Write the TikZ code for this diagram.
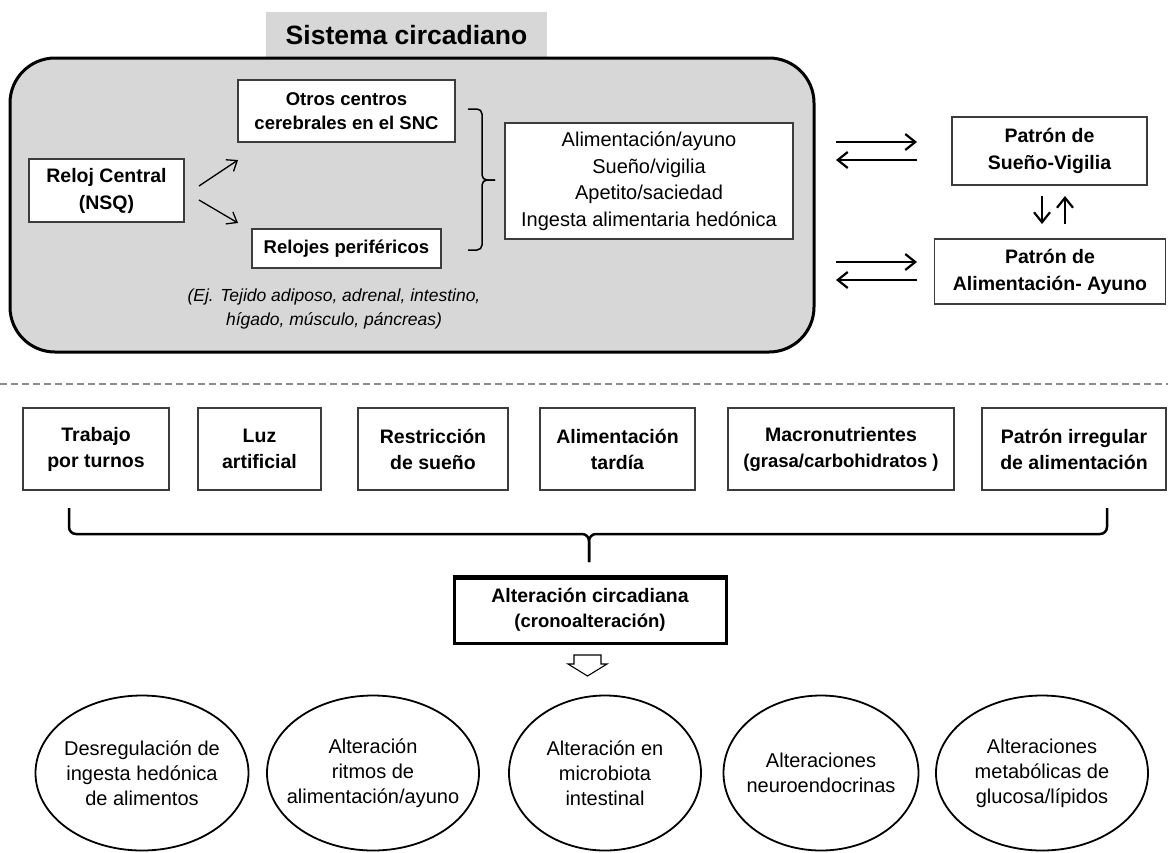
\documentclass[tikz,border=0pt]{standalone}
\usepackage{fontspec}
\setmainfont{Liberation Sans}
\usetikzlibrary{arrows.meta,shapes.geometric}
\definecolor{panel}{RGB}{215,215,215}
\definecolor{edgegray}{RGB}{60,60,60}
\definecolor{dashgray}{RGB}{140,140,140}
\begin{document}
\begin{tikzpicture}[x=1pt,y=-1pt,
  every node/.style={inner sep=0pt, outer sep=0pt},
  fbold/.style={font=\fontsize{19.5}{26}\selectfont\bfseries},
  fsbold/.style={font=\fontsize{18.5}{24.5}\selectfont\bfseries},
  freg/.style={font=\fontsize{20}{26.5}\selectfont},
  wbox/.style={draw=edgegray, line width=1.5pt, fill=white, align=center},
  bbox/.style={draw=edgegray, line width=2.2pt, fill=white, align=center, minimum height=82pt, fbold},
  ell/.style={ellipse, draw=black, line width=1.8pt, minimum height=155pt},
  etext/.style={align=center, font=\fontsize{20}{25}\selectfont},
  thinarr/.style={line width=1.3pt, -{Straight Barb[length=9pt,width=14pt]}},
  thickarr/.style={line width=2.2pt, -{Straight Barb[length=10pt,width=16pt]}},
  bracel/.style={line width=1.5pt, rounded corners=5pt},
  bigbrace/.style={line width=2.5pt, rounded corners=7pt},
]
\useasboundingbox (0,0) rectangle (1168,852);

% ---- circadian system panel ----
\node[fill=panel, minimum width=281pt, minimum height=46pt, font=\fontsize{26.5}{30}\selectfont\bfseries] (title) at (406.5,35) {Sistema circadiano};
\node[draw=black, line width=3pt, fill=panel, rounded corners=45pt, minimum width=804pt, minimum height=294pt] (sys) at (412,205) {};

\node[wbox, minimum width=155pt, minimum height=63pt, font=\fontsize{19.5}{27}\selectfont\bfseries] (reloj) at (106.5,190.5) {Reloj Central\\(NSQ)};
\node[wbox, fsbold, minimum width=217pt, minimum height=62pt] (otros) at (346.5,111) {Otros centros\\cerebrales en el SNC};
\node[wbox, fsbold, minimum width=189pt, minimum height=39pt] (relojes) at (346.5,248.5) {Relojes periféricos};
\node[wbox, freg, minimum width=288pt, minimum height=116pt] (alim) at (649,181) {Alimentación/ayuno\\Sueño/vigilia\\Apetito/saciedad\\Ingesta alimentaria hedónica};
\node[align=center, font=\fontsize{17.5}{23.5}\selectfont\itshape] (ej) at (334,309) {(Ej. Tejido adiposo, adrenal, intestino,\\hígado, músculo, páncreas)};

\coordinate (a1s) at (199,186); \coordinate (a1e) at (238,160);
\coordinate (a2s) at (199,200); \coordinate (a2e) at (238,223);
\draw[thinarr] (a1s) -- (a1e);
\draw[thinarr] (a2s) -- (a2e);

% brace right of the two boxes
\coordinate (bt1) at (468,109); \coordinate (bt2) at (468,250); \coordinate (btip) at (495,180);
\draw[bracel] (bt1) -- (482,109) -- (482,180) -- (btip);
\draw[bracel] (bt2) -- (482,250) -- (482,180) -- (btip);

% ---- right patterns ----
\node[wbox, minimum width=195pt, minimum height=68pt, font=\fontsize{19.5}{27}\selectfont\bfseries] (sueno) at (1049.5,151) {Patrón de\\Sueño-Vigilia};
\node[wbox, minimum width=231pt, minimum height=65pt, font=\fontsize{19.5}{27}\selectfont\bfseries] (alay) at (1050,271.5) {Patrón de\\Alimentación- Ayuno};

\coordinate (r1a) at (836,142); \coordinate (r1b) at (917,142);
\coordinate (r2a) at (836,160); \coordinate (r2b) at (917,160);
\coordinate (r3a) at (836,262); \coordinate (r3b) at (917,262);
\coordinate (r4a) at (836,280); \coordinate (r4b) at (917,280);
\draw[thickarr] (r1a) -- (r1b);
\draw[thickarr] (r2b) -- (r2a);
\draw[thickarr] (r3a) -- (r3b);
\draw[thickarr] (r4b) -- (r4a);

\coordinate (v1a) at (1042,196); \coordinate (v1b) at (1042,224);
\coordinate (v2a) at (1065,224); \coordinate (v2b) at (1065,196);
\draw[thickarr] (v1a) -- (v1b);
\draw[thickarr] (v2a) -- (v2b);

% ---- separator ----
\coordinate (dl) at (0,384); \coordinate (dr) at (1168,384);
\draw[dashgray, line width=1.5pt, dash pattern=on 7pt off 4pt] (dl) -- (dr);

% ---- factors ----
\node[bbox, minimum width=146pt] (f1) at (96,449) {Trabajo\\por turnos};
\node[bbox, minimum width=123pt] (f2) at (259.5,449) {Luz\\artificial};
\node[bbox, minimum width=150pt] (f3) at (433,449) {Restricción\\de sueño};
\node[bbox, minimum width=155pt] (f4) at (617.5,449) {Alimentación\\tardía};
\node[bbox, minimum width=226pt] (f5) at (841,449) {Macronutrientes\\{\fontsize{18.5}{26}\selectfont(grasa/carbohidratos )}};
\node[bbox, minimum width=184pt] (f6) at (1074,449) {Patrón irregular\\de alimentación};

% big brace
\coordinate (bl) at (69,508); \coordinate (br) at (1107,508); \coordinate (bc) at (589,562);
\draw[bigbrace] (bl) -- (69,534) -- (589,534) -- (bc);
\draw[bigbrace] (br) -- (1107,534) -- (589,534) -- (bc);

% ---- circadian disruption ----
\node[draw=black, line width=3pt, fill=white, minimum width=272pt, minimum height=66pt, align=center, font=\fontsize{19.5}{25}\selectfont\bfseries] (alt) at (590,610) {Alteración circadiana\\{\fontsize{18.5}{25}\selectfont(cronoalteración)}};
\draw[line width=5pt] ([xshift=-1.5pt]alt.north west) -- ([xshift=1.5pt]alt.north east);

\draw[line width=1.1pt, fill=white] (574,655) -- (601,655) -- (601,664) -- (607,664) -- (587.5,676) -- (568,664) -- (574,664) -- cycle;

% ---- consequences ----
\node[ell, minimum width=213pt] (e1) at (142,773) {};
\node[ell, minimum width=212pt] (e2) at (373,773) {};
\node[ell, minimum width=192pt] (e3) at (605,773) {};
\node[ell, minimum width=195pt] (e4) at (821,773) {};
\node[ell, minimum width=212pt] (e5) at (1042,773) {};
\node[etext] (t1) at (e1) {Desregulación de\\ingesta hedónica\\de alimentos};
\node[etext] (t2) at (e2) {Alteración\\ritmos de\\alimentación/ayuno};
\node[etext] (t3) at (e3) {Alteración en\\microbiota\\intestinal};
\node[etext] (t4) at (e4) {Alteraciones\\neuroendocrinas};
\node[etext] (t5) at (e5) {Alteraciones\\metabólicas de\\glucosa/lípidos};
\end{tikzpicture}
\end{document}
